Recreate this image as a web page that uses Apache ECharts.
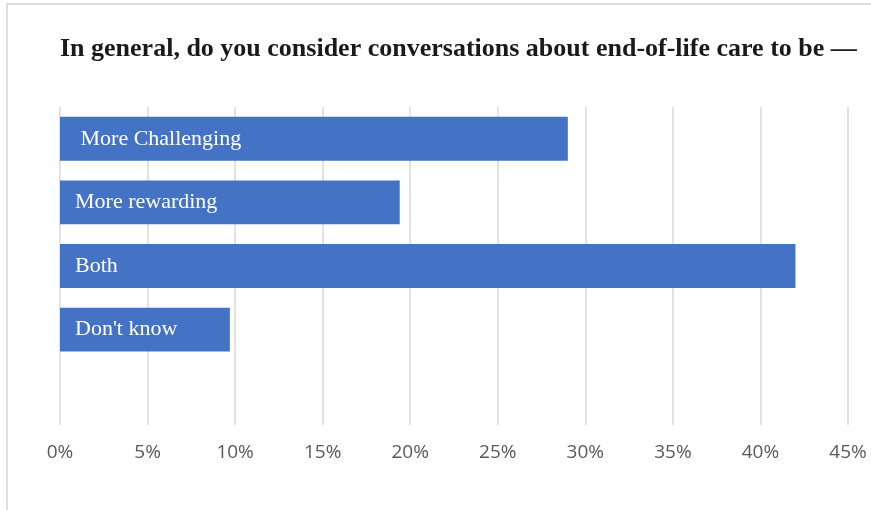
<!DOCTYPE html>
<html><head><meta charset="utf-8">
<script src="https://cdn.jsdelivr.net/npm/echarts@6/dist/echarts.min.js"></script>
<style>
html,body{margin:0;padding:0;background:#fff;overflow:hidden;}
#frame{position:absolute;left:6px;top:3px;width:880px;height:520px;border-top:2px solid #dedede;border-left:2px solid #dedede;}
#c{position:absolute;left:0;top:0;width:871px;height:510px;}
</style></head>
<body>
<div id="frame"></div>
<div id="c"></div>
<script>
const titleText = 'In general, do you consider conversations about end-of-life care to be \u2014';
const categories = [' More Challenging', 'More rewarding', 'Both', "Don't know", ''];
const values = [29.0, 19.4, 42.0, 9.7, null];
const tickLabels = ['0%','5%','10%','15%','20%','25%','30%','35%','40%','45%'];

const chart = echarts.init(document.getElementById('c'), null, {renderer:'canvas'});
chart.setOption({
  animation:false,
  backgroundColor:'transparent',
  title:{
    text:titleText, left:55, top:31,
    textStyle:{fontFamily:'"Liberation Serif", serif', fontWeight:'bold', fontSize:26, color:'#1a1a1a'}
  },
  grid:{left:60, right:23, top:107, bottom:85, containLabel:false},
  xAxis:{
    type:'value', min:0, max:45, interval:5,
    axisLine:{show:false}, axisTick:{show:false},
    splitLine:{show:true, lineStyle:{color:'#d9d9d9', width:1.5}},
    axisLabel:{
      margin:18, color:'#595959', fontSize:19, fontFamily:'"Open Sans", sans-serif',
      formatter:(v)=>tickLabels[Math.round(v/5)]
    }
  },
  yAxis:{
    type:'category', data:categories, inverse:true,
    axisLine:{show:false}, axisTick:{show:false}, axisLabel:{show:false}, splitLine:{show:false}
  },
  series:[{
    type:'bar', data:values, barCategoryGap:'31%',
    itemStyle:{color:'#4472c4'},
    label:{show:true, position:'insideLeft', distance:15, formatter:'{b}', color:'#ffffff',
      fontFamily:'"Liberation Serif", serif', fontSize:22}
  }]
});
</script>
</body></html>
